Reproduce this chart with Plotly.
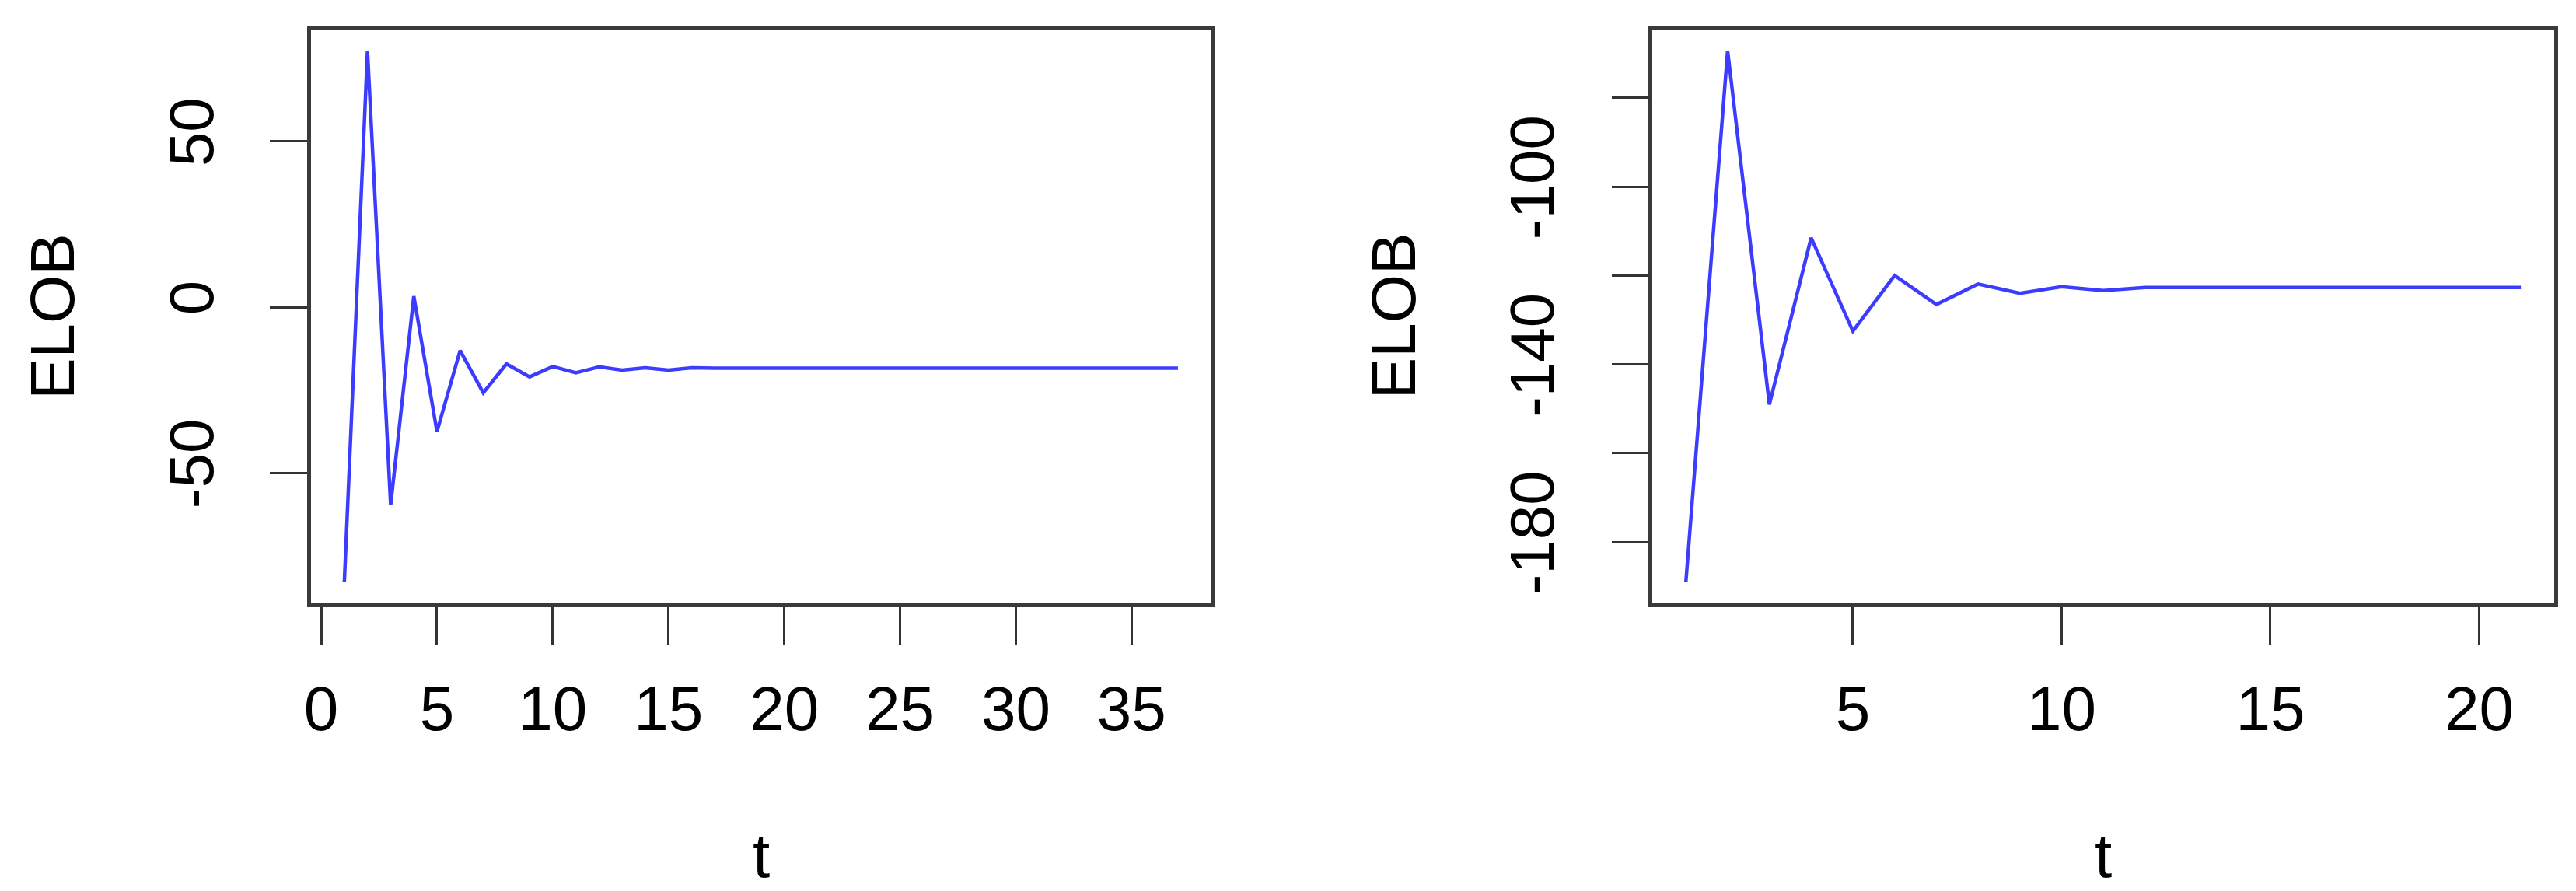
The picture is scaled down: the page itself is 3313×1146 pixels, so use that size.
import plotly.graph_objects as go

# ---- data ----
t_left = list(range(1, 38))
elob_left = [-82.9, 77.3, -59.7, 3.3, -37.5, -13.1, -25.8, -17.1, -21.0, -17.9,
             -19.8, -18.0, -19.0, -18.3, -19.0, -18.3, -18.4, -18.4, -18.4, -18.4,
             -18.4, -18.4, -18.4, -18.4, -18.4, -18.4, -18.4, -18.4, -18.4, -18.4,
             -18.4, -18.4, -18.4, -18.4, -18.4, -18.4, -18.4]

t_right = list(range(1, 22))
elob_right = [-189.0, -69.4, -149.0, -111.5, -132.5, -120.0, -126.5, -121.9, -124.0, -122.5,
              -123.4, -122.7, -122.7, -122.7, -122.7, -122.7, -122.7, -122.7, -122.7, -122.7,
              -122.7]

left_xticks = [0, 5, 10, 15, 20, 25, 30, 35]
left_xtext = ["0", "5", "10", "15", "20", "25", "30", "35"]
left_yticks = [-50, 0, 50]
left_ytext = ["-50", "0", "50"]
right_xticks = [5, 10, 15, 20]
right_xtext = ["5", "10", "15", "20"]
right_yticks = [-180, -160, -140, -120, -100, -80]
right_ytext = ["-180", "", "-140", "", "-100", ""]

x_title = "t"
y_title = "ELOB"

W, H = 3313, 1146
FONT = "Liberation Sans Narrow, Liberation Sans, Arial, sans-serif"
TITLE_FONT = "Liberation Sans, Arial, sans-serif"
LINE_COLOR = "rgb(60,60,255)"
FRAME = "#3a3a3a"


def r_range(v):
    lo, hi = min(v), max(v)
    d = (hi - lo) * 0.04
    return [lo - d, hi + d]


fig = go.Figure()
fig.add_trace(go.Scatter(x=t_left, y=elob_left, mode="lines",
                         line=dict(color=LINE_COLOR, width=4.5),
                         xaxis="x", yaxis="y", showlegend=False))
fig.add_trace(go.Scatter(x=t_right, y=elob_right, mode="lines",
                         line=dict(color=LINE_COLOR, width=4.5),
                         xaxis="x2", yaxis="y2", showlegend=False))

# plot-area boxes in pixels
L = dict(x0=384, x1=1545, y0=30, y1=768)
R = dict(x0=2114, x1=3277, y0=30, y1=768)


def dom_x(b):
    return [b["x0"] / W, b["x1"] / W]


def dom_y(b):
    return [1 - b["y1"] / H, 1 - b["y0"] / H]


axis_common = dict(showgrid=False, zeroline=False, showline=True, mirror=True,
                   linecolor=FRAME, linewidth=4.5, ticks="outside", ticklen=48,
                   tickwidth=2.5, tickcolor="#333333",
                   tickfont=dict(family=FONT, size=80, color="black"))

fig.update_layout(
    width=W, height=H,
    margin=dict(l=0, r=0, t=0, b=0),
    paper_bgcolor="white", plot_bgcolor="white",
    xaxis=dict(domain=dom_x(L), anchor="y", range=r_range(t_left),
               tickmode="array", tickvals=left_xticks, ticktext=left_xtext,
               ticklabelstandoff=14, **axis_common),
    yaxis=dict(domain=dom_y(L), anchor="x", range=r_range(elob_left),
               tickmode="array", tickvals=left_yticks, ticktext=left_ytext,
               tickangle=-90, ticklabelstandoff=41, **axis_common),
    xaxis2=dict(domain=dom_x(R), anchor="y2", range=r_range(t_right),
                tickmode="array", tickvals=right_xticks, ticktext=right_xtext,
                ticklabelstandoff=14, **axis_common),
    yaxis2=dict(domain=dom_y(R), anchor="x2", range=r_range(elob_right),
                tickmode="array", tickvals=right_yticks, ticktext=right_ytext,
                tickangle=-90, ticklabelstandoff=43, **axis_common),
)

# axis titles as annotations (placed like R's mtext lines)
for b in (L, R):
    cx = (b["x0"] + b["x1"]) / 2 / W
    fig.add_annotation(x=cx, y=1 - 1092 / H, xref="paper", yref="paper",
                       text=x_title, showarrow=False, xanchor="center", yanchor="middle",
                       font=dict(family=TITLE_FONT, size=80, color="black"))
    cy = 1 - (b["y0"] + b["y1"]) / 2 / H
    fig.add_annotation(x=(b["x0"] - 334) / W, y=cy, xref="paper", yref="paper",
                       text=y_title, showarrow=False, textangle=-90,
                       xanchor="center", yanchor="middle",
                       font=dict(family=TITLE_FONT, size=80, color="black"))

fig.write_html("out.html")
